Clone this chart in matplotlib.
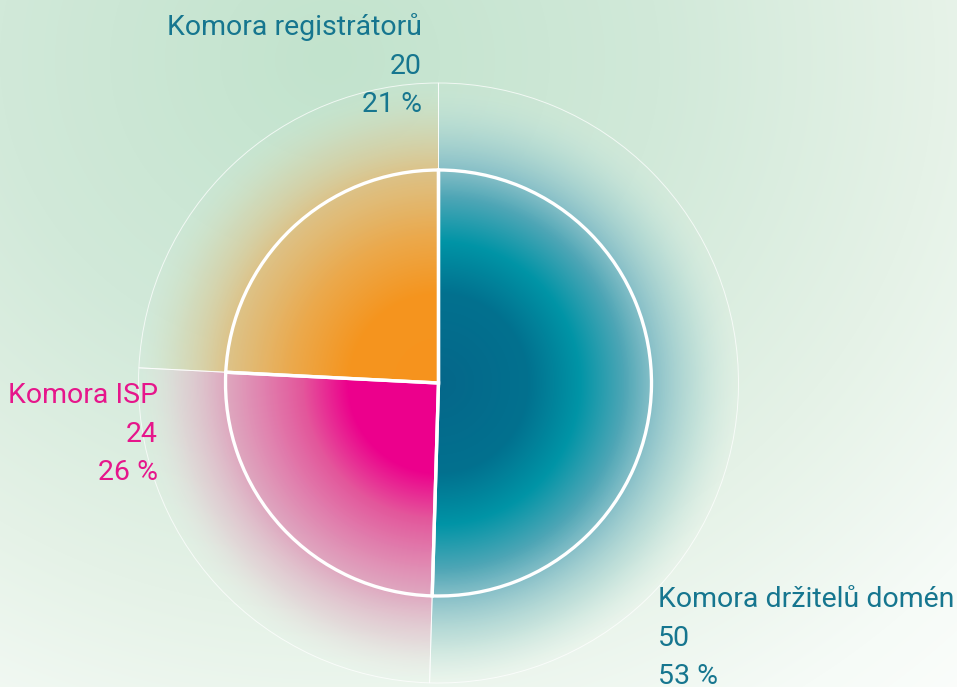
import numpy as np
import matplotlib
matplotlib.use("Agg")
import matplotlib.pyplot as plt
from matplotlib.patches import Wedge
from matplotlib.colors import to_rgba

W, H = 957, 687

labels = ["Komora držitelů domén", "Komora ISP", "Komora registrátorů"]
members = [50, 24, 20]
percent = [53, 26, 21]
# slice sizes as they are drawn in the picture (degrees)
arc_deg = [181.7, 91.2, 87.1]

text_colors = ["#16768f", "#e6168b", "#16768f"]

# radial colour stops per slice: (t = r / outer radius, colour, alpha)
stops = [
    [(0.0, "#05678a", 1), (0.3, "#02718f", 1), (0.47, "#0094a6", 1),
     (0.62, "#4ea6b6", 1), (0.72, "#86bfc8", 0.95), (0.86, "#acd6d2", 0.6), (1.0, "#c8e6dc", 0)],
    [(0.0, "#ec008c", 1), (0.3, "#ec008c", 1), (0.45, "#e4559b", 1),
     (0.71, "#dfa2bd", 0.92), (0.86, "#e2c8d0", 0.6), (1.0, "#e6e6e0", 0)],
    [(0.0, "#f7931d", 1), (0.3, "#f5951f", 1), (0.5, "#ebaa4e", 1),
     (0.71, "#dfbf80", 0.9), (0.86, "#d6cfa2", 0.5), (1.0, "#d0e0c0", 0)],
]

CX, CY = 438.5, H - 383
R_IN, R_OUT = 213, 300

fig = plt.figure(figsize=(W / 100, H / 100), dpi=100)
ax = fig.add_axes([0, 0, 1, 1])

xs = np.arange(W) + 0.5
ys = H - (np.arange(H) + 0.5)
X, Y = np.meshgrid(xs, ys)


def ramp(d, pts):
    d_ = [p[0] for p in pts]
    out = np.zeros(d.shape + (4,))
    for k in range(3):
        out[..., k] = np.interp(d, d_, [to_rgba(p[1])[k] for p in pts])
    out[..., 3] = np.interp(d, d_, [p[2] for p in pts])
    return out


# background glow
dist_bg = np.hypot((X - 330) / 1.1, Y - (H - 60))
bg = ramp(dist_bg, [(0, "#c2e3cd", 1), (300, "#d1e9d9", 1), (550, "#e5f2e7", 1),
                    (760, "#f6fbf7", 1), (900, "#fdfefd", 1)])
ax.imshow(bg, extent=(0, W, 0, H), origin="upper", zorder=0, interpolation="bilinear")

t = np.hypot(X - CX, Y - CY) / R_OUT

wedges, _ = ax.pie(arc_deg, startangle=90, counterclock=False, radius=R_IN,
                   center=(CX, CY), frame=True,
                   wedgeprops=dict(fill=False, edgecolor="white", linewidth=2.4, zorder=4))

for w, st in zip(wedges, stops):
    outer = Wedge((CX, CY), R_OUT, w.theta1, w.theta2, transform=ax.transData)
    im = ax.imshow(ramp(t, st), extent=(0, W, 0, H), origin="upper", zorder=1,
                   interpolation="bilinear")
    im.set_clip_path(outer)
    ax.add_patch(Wedge((CX, CY), R_OUT, w.theta1, w.theta2, fill=False,
                       edgecolor=(1, 1, 1, 0.75), linewidth=0.7, zorder=2))

font = ["Roboto", "DejaVu Sans"]
fs = 20.5
# label blocks: (x, top baseline, alignment)
spots = [(658, 607, "left"), (158, 403, "right"), (422, 35, "right")]
for (x, y, ha), lab, n, p, c in zip(spots, labels, members, percent, text_colors):
    for i, s in enumerate([lab, str(n), f"{p} %"]):
        ax.text(x, H - (y + i * 38.5), s, ha=ha, va="baseline", color=c,
                fontsize=fs, family=font, zorder=5)

ax.set_xlim(0, W)
ax.set_ylim(0, H)
ax.set_aspect("equal")
ax.axis("off")

fig.savefig("out.png", dpi=100)
